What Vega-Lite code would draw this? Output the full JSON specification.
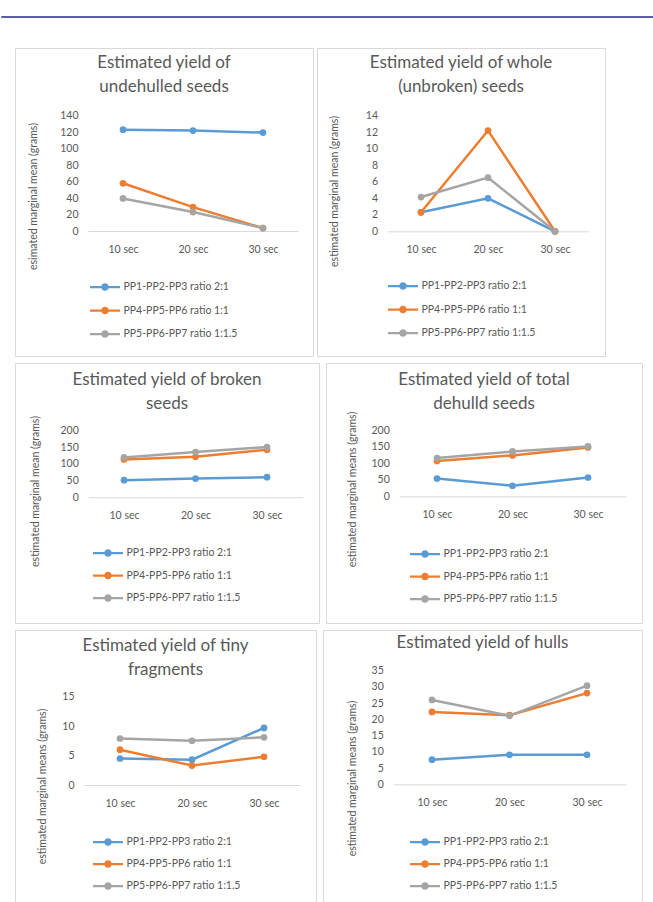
{
  "$schema": "https://vega.github.io/schema/vega-lite/v6.json",
  "padding": {"top": 15, "left": 0, "right": 0, "bottom": 0},
  "background": "white",
  "datasets": {
    "d": [
      {"p": 1, "t": "10 sec", "s": "PP1-PP2-PP3 ratio 2:1", "v": 123},
      {"p": 1, "t": "20 sec", "s": "PP1-PP2-PP3 ratio 2:1", "v": 122},
      {"p": 1, "t": "30 sec", "s": "PP1-PP2-PP3 ratio 2:1", "v": 119.5},
      {"p": 1, "t": "10 sec", "s": "PP4-PP5-PP6 ratio 1:1", "v": 58},
      {"p": 1, "t": "20 sec", "s": "PP4-PP5-PP6 ratio 1:1", "v": 29},
      {"p": 1, "t": "30 sec", "s": "PP4-PP5-PP6 ratio 1:1", "v": 3.5},
      {"p": 1, "t": "10 sec", "s": "PP5-PP6-PP7 ratio 1:1.5", "v": 39.5},
      {"p": 1, "t": "20 sec", "s": "PP5-PP6-PP7 ratio 1:1.5", "v": 23},
      {"p": 1, "t": "30 sec", "s": "PP5-PP6-PP7 ratio 1:1.5", "v": 3.5},
      {"p": 2, "t": "10 sec", "s": "PP1-PP2-PP3 ratio 2:1", "v": 2.3},
      {"p": 2, "t": "20 sec", "s": "PP1-PP2-PP3 ratio 2:1", "v": 4.0},
      {"p": 2, "t": "30 sec", "s": "PP1-PP2-PP3 ratio 2:1", "v": 0},
      {"p": 2, "t": "10 sec", "s": "PP4-PP5-PP6 ratio 1:1", "v": 2.3},
      {"p": 2, "t": "20 sec", "s": "PP4-PP5-PP6 ratio 1:1", "v": 12.2},
      {"p": 2, "t": "30 sec", "s": "PP4-PP5-PP6 ratio 1:1", "v": 0},
      {"p": 2, "t": "10 sec", "s": "PP5-PP6-PP7 ratio 1:1.5", "v": 4.15},
      {"p": 2, "t": "20 sec", "s": "PP5-PP6-PP7 ratio 1:1.5", "v": 6.5},
      {"p": 2, "t": "30 sec", "s": "PP5-PP6-PP7 ratio 1:1.5", "v": 0},
      {"p": 3, "t": "10 sec", "s": "PP1-PP2-PP3 ratio 2:1", "v": 51},
      {"p": 3, "t": "20 sec", "s": "PP1-PP2-PP3 ratio 2:1", "v": 56},
      {"p": 3, "t": "30 sec", "s": "PP1-PP2-PP3 ratio 2:1", "v": 60},
      {"p": 3, "t": "10 sec", "s": "PP4-PP5-PP6 ratio 1:1", "v": 113},
      {"p": 3, "t": "20 sec", "s": "PP4-PP5-PP6 ratio 1:1", "v": 121},
      {"p": 3, "t": "30 sec", "s": "PP4-PP5-PP6 ratio 1:1", "v": 142},
      {"p": 3, "t": "10 sec", "s": "PP5-PP6-PP7 ratio 1:1.5", "v": 119},
      {"p": 3, "t": "20 sec", "s": "PP5-PP6-PP7 ratio 1:1.5", "v": 135},
      {"p": 3, "t": "30 sec", "s": "PP5-PP6-PP7 ratio 1:1.5", "v": 150},
      {"p": 4, "t": "10 sec", "s": "PP1-PP2-PP3 ratio 2:1", "v": 54},
      {"p": 4, "t": "20 sec", "s": "PP1-PP2-PP3 ratio 2:1", "v": 32},
      {"p": 4, "t": "30 sec", "s": "PP1-PP2-PP3 ratio 2:1", "v": 57},
      {"p": 4, "t": "10 sec", "s": "PP4-PP5-PP6 ratio 1:1", "v": 107},
      {"p": 4, "t": "20 sec", "s": "PP4-PP5-PP6 ratio 1:1", "v": 124},
      {"p": 4, "t": "30 sec", "s": "PP4-PP5-PP6 ratio 1:1", "v": 148},
      {"p": 4, "t": "10 sec", "s": "PP5-PP6-PP7 ratio 1:1.5", "v": 116},
      {"p": 4, "t": "20 sec", "s": "PP5-PP6-PP7 ratio 1:1.5", "v": 136},
      {"p": 4, "t": "30 sec", "s": "PP5-PP6-PP7 ratio 1:1.5", "v": 151},
      {"p": 5, "t": "10 sec", "s": "PP1-PP2-PP3 ratio 2:1", "v": 4.5},
      {"p": 5, "t": "20 sec", "s": "PP1-PP2-PP3 ratio 2:1", "v": 4.3},
      {"p": 5, "t": "30 sec", "s": "PP1-PP2-PP3 ratio 2:1", "v": 9.7},
      {"p": 5, "t": "10 sec", "s": "PP4-PP5-PP6 ratio 1:1", "v": 6.0},
      {"p": 5, "t": "20 sec", "s": "PP4-PP5-PP6 ratio 1:1", "v": 3.3},
      {"p": 5, "t": "30 sec", "s": "PP4-PP5-PP6 ratio 1:1", "v": 4.8},
      {"p": 5, "t": "10 sec", "s": "PP5-PP6-PP7 ratio 1:1.5", "v": 7.9},
      {"p": 5, "t": "20 sec", "s": "PP5-PP6-PP7 ratio 1:1.5", "v": 7.5},
      {"p": 5, "t": "30 sec", "s": "PP5-PP6-PP7 ratio 1:1.5", "v": 8.1},
      {"p": 6, "t": "10 sec", "s": "PP1-PP2-PP3 ratio 2:1", "v": 7.6},
      {"p": 6, "t": "20 sec", "s": "PP1-PP2-PP3 ratio 2:1", "v": 9.1},
      {"p": 6, "t": "30 sec", "s": "PP1-PP2-PP3 ratio 2:1", "v": 9.1},
      {"p": 6, "t": "10 sec", "s": "PP4-PP5-PP6 ratio 1:1", "v": 22.3},
      {"p": 6, "t": "20 sec", "s": "PP4-PP5-PP6 ratio 1:1", "v": 21.3},
      {"p": 6, "t": "30 sec", "s": "PP4-PP5-PP6 ratio 1:1", "v": 28.1},
      {"p": 6, "t": "10 sec", "s": "PP5-PP6-PP7 ratio 1:1.5", "v": 26.0},
      {"p": 6, "t": "20 sec", "s": "PP5-PP6-PP7 ratio 1:1.5", "v": 21.1},
      {"p": 6, "t": "30 sec", "s": "PP5-PP6-PP7 ratio 1:1.5", "v": 30.4}
    ]
  },
  "spacing": 29,
  "resolve": {"scale": {"color": "independent", "fill": "independent"}, "legend": {"color": "independent", "fill": "independent"}},
  "vconcat": [
    {
      "width": 653, "height": 1,
      "data": {"values": []},
      "mark": "point",
      "view": {"stroke": "#5b5ea6", "strokeWidth": 1}
    },
    {
      "spacing": 0,
      "resolve": {"scale": {"color": "independent", "fill": "independent"}, "legend": {"color": "independent", "fill": "independent"}},
      "hconcat": [
        {"width": 13, "height": 10, "data": {"values": []}, "mark": "point", "view": {"stroke": null}},
        {
          "spacing": 5,
          "resolve": {"scale": {"color": "independent", "fill": "independent"}, "legend": {"color": "independent", "fill": "independent"}},
          "vconcat": [
            {
              "spacing": 2,
              "resolve": {"scale": {"color": "independent", "fill": "independent"}, "legend": {"color": "independent", "fill": "independent"}},
              "hconcat": [
                {
                  "width": 298, "height": 308,
                  "data": {"name": "d"},
                  "title": {"text": ["Estimated yield of", "undehulled  seeds"], "offset": -48},
                  "transform": [{"filter": "datum.p == 1"}],
                  "encoding": {
                    "x": {"field": "t", "type": "ordinal", "title": null, "scale": {"type": "point", "range": [73, 283], "padding": 0.5}, "axis": {"offset": -125, "labelAngle": 0, "labelPadding": 13}},
                    "y": {"field": "v", "type": "quantitative", "scale": {"domain": [0, 140], "range": [183, 67.7], "nice": false}, "axis": {"values": [0, 20, 40, 60, 80, 100, 120, 140], "offset": -73, "domain": false, "labelPadding": 10, "title": "esimated marginal mean (grams)", "titleX": -55, "titleY": 148}}
                  },
                  "layer": [
                    {"mark": "line", "encoding": {"color": {"field": "s", "type": "nominal", "scale": {"domain": ["PP5-PP6-PP7 ratio 1:1.5", "PP4-PP5-PP6 ratio 1:1", "PP1-PP2-PP3 ratio 2:1"], "range": ["#a5a5a5", "#ed7d31", "#5b9bd5"]}, "legend": null}}},
                    {"mark": {"type": "point", "filled": true, "size": 45, "opacity": 1}, "encoding": {"fill": {"field": "s", "type": "nominal", "scale": {"domain": ["PP1-PP2-PP3 ratio 2:1", "PP4-PP5-PP6 ratio 1:1", "PP5-PP6-PP7 ratio 1:1.5"], "range": ["#5b9bd5", "#ed7d31", "#a5a5a5"]}, "legend": {"title": null, "orient": "none", "legendX": 81.5, "legendY": 230.5, "symbolType": "M-2,-0.15L2,-0.15L2,0.15L-2,0.15Z M0.5,0A0.5,0.5 0 1,1 -0.5,0A0.5,0.5 0 1,1 0.5,0Z", "symbolSize": 225, "labelOffset": 10, "rowPadding": 9.5, "labelFont": "Lato", "labelFontSize": 10.5, "labelColor": "#595959"}}}}
                  ]
                },
                {
                  "width": 288, "height": 308,
                  "data": {"name": "d"},
                  "title": {"text": ["Estimated yield of whole", "(unbroken) seeds"], "offset": -48},
                  "transform": [{"filter": "datum.p == 2"}],
                  "encoding": {
                    "x": {"field": "t", "type": "ordinal", "title": null, "scale": {"type": "point", "range": [70.5, 271.5], "padding": 0.5}, "axis": {"offset": -124.7, "labelAngle": 0, "labelPadding": 13}},
                    "y": {"field": "v", "type": "quantitative", "scale": {"domain": [0, 14], "range": [183.3, 67.7], "nice": false}, "axis": {"values": [0, 2, 4, 6, 8, 10, 12, 14], "offset": -70.5, "domain": false, "labelPadding": 10, "title": "estimated marginal mean (grams)", "titleX": -53, "titleY": 143}}
                  },
                  "layer": [
                    {"mark": "line", "encoding": {"color": {"field": "s", "type": "nominal", "scale": {"domain": ["PP5-PP6-PP7 ratio 1:1.5", "PP4-PP5-PP6 ratio 1:1", "PP1-PP2-PP3 ratio 2:1"], "range": ["#a5a5a5", "#ed7d31", "#5b9bd5"]}, "legend": null}}},
                    {"mark": {"type": "point", "filled": true, "size": 45, "opacity": 1}, "encoding": {"fill": {"field": "s", "type": "nominal", "scale": {"domain": ["PP1-PP2-PP3 ratio 2:1", "PP4-PP5-PP6 ratio 1:1", "PP5-PP6-PP7 ratio 1:1.5"], "range": ["#5b9bd5", "#ed7d31", "#a5a5a5"]}, "legend": {"title": null, "orient": "none", "legendX": 77.5, "legendY": 229.5, "symbolType": "M-2,-0.15L2,-0.15L2,0.15L-2,0.15Z M0.5,0A0.5,0.5 0 1,1 -0.5,0A0.5,0.5 0 1,1 0.5,0Z", "symbolSize": 225, "labelOffset": 10, "rowPadding": 9.5, "labelFont": "Lato", "labelFontSize": 10.5, "labelColor": "#595959"}}}}
                  ]
                }
              ]
            },
            {
              "spacing": 5,
              "resolve": {"scale": {"color": "independent", "fill": "independent"}, "legend": {"color": "independent", "fill": "independent"}},
              "hconcat": [
                {
                  "width": 304, "height": 260,
                  "data": {"name": "d"},
                  "title": {"text": ["Estimated yield of broken", "seeds"], "offset": -50},
                  "transform": [{"filter": "datum.p == 3"}],
                  "encoding": {
                    "x": {"field": "t", "type": "ordinal", "title": null, "scale": {"type": "point", "range": [73.25, 287.75], "padding": 0.5}, "axis": {"offset": -125.7, "labelAngle": 0, "labelPadding": 13}},
                    "y": {"field": "v", "type": "quantitative", "scale": {"domain": [0, 200], "range": [134.3, 67.3], "nice": false}, "axis": {"values": [0, 50, 100, 150, 200], "offset": -73.25, "domain": false, "labelPadding": 10, "title": "estimated marginal mean (grams)", "titleX": -53, "titleY": 128}}
                  },
                  "layer": [
                    {"mark": "line", "encoding": {"color": {"field": "s", "type": "nominal", "scale": {"domain": ["PP5-PP6-PP7 ratio 1:1.5", "PP4-PP5-PP6 ratio 1:1", "PP1-PP2-PP3 ratio 2:1"], "range": ["#a5a5a5", "#ed7d31", "#5b9bd5"]}, "legend": null}}},
                    {"mark": {"type": "point", "filled": true, "size": 45, "opacity": 1}, "encoding": {"fill": {"field": "s", "type": "nominal", "scale": {"domain": ["PP1-PP2-PP3 ratio 2:1", "PP4-PP5-PP6 ratio 1:1", "PP5-PP6-PP7 ratio 1:1.5"], "range": ["#5b9bd5", "#ed7d31", "#a5a5a5"]}, "legend": {"title": null, "orient": "none", "legendX": 84.5, "legendY": 181.5, "symbolType": "M-2,-0.15L2,-0.15L2,0.15L-2,0.15Z M0.5,0A0.5,0.5 0 1,1 -0.5,0A0.5,0.5 0 1,1 0.5,0Z", "symbolSize": 225, "labelOffset": 10, "rowPadding": 8.5, "labelFont": "Lato", "labelFontSize": 10.5, "labelColor": "#595959"}}}}
                  ]
                },
                {
                  "width": 316, "height": 260,
                  "data": {"name": "d"},
                  "title": {"text": ["Estimated yield of total", "dehulld seeds"], "offset": -50},
                  "transform": [{"filter": "datum.p == 4"}],
                  "encoding": {
                    "x": {"field": "t", "type": "ordinal", "title": null, "scale": {"type": "point", "range": [73.25, 299.75], "padding": 0.5}, "axis": {"offset": -126.7, "labelAngle": 0, "labelPadding": 13}},
                    "y": {"field": "v", "type": "quantitative", "scale": {"domain": [0, 200], "range": [133.3, 67.3], "nice": false}, "axis": {"values": [0, 50, 100, 150, 200], "offset": -73.25, "domain": false, "labelPadding": 10, "title": "estimated marginal means (grams)", "titleX": -47, "titleY": 126}}
                  },
                  "layer": [
                    {"mark": "line", "encoding": {"color": {"field": "s", "type": "nominal", "scale": {"domain": ["PP5-PP6-PP7 ratio 1:1.5", "PP4-PP5-PP6 ratio 1:1", "PP1-PP2-PP3 ratio 2:1"], "range": ["#a5a5a5", "#ed7d31", "#5b9bd5"]}, "legend": null}}},
                    {"mark": {"type": "point", "filled": true, "size": 45, "opacity": 1}, "encoding": {"fill": {"field": "s", "type": "nominal", "scale": {"domain": ["PP1-PP2-PP3 ratio 2:1", "PP4-PP5-PP6 ratio 1:1", "PP5-PP6-PP7 ratio 1:1.5"], "range": ["#5b9bd5", "#ed7d31", "#a5a5a5"]}, "legend": {"title": null, "orient": "none", "legendX": 90.5, "legendY": 182.5, "symbolType": "M-2,-0.15L2,-0.15L2,0.15L-2,0.15Z M0.5,0A0.5,0.5 0 1,1 -0.5,0A0.5,0.5 0 1,1 0.5,0Z", "symbolSize": 225, "labelOffset": 10, "rowPadding": 8.5, "labelFont": "Lato", "labelFontSize": 10.5, "labelColor": "#595959"}}}}
                  ]
                }
              ]
            },
            {
              "spacing": 5,
              "resolve": {"scale": {"color": "independent", "fill": "independent"}, "legend": {"color": "independent", "fill": "independent"}},
              "hconcat": [
                {
                  "width": 301, "height": 280,
                  "data": {"name": "d"},
                  "title": {"text": ["Estimated yield of tiny", "fragments"], "offset": -49},
                  "transform": [{"filter": "datum.p == 5"}],
                  "encoding": {
                    "x": {"field": "t", "type": "ordinal", "title": null, "scale": {"type": "point", "range": [69, 285], "padding": 0.5}, "axis": {"offset": -125, "labelAngle": 0, "labelPadding": 13}},
                    "y": {"field": "v", "type": "quantitative", "scale": {"domain": [0, 15], "range": [155, 66.7], "nice": false}, "axis": {"values": [0, 5, 10, 15], "offset": -69, "domain": false, "labelPadding": 10, "title": "estimated marginal means (grams)", "titleX": -42, "titleY": 156}}
                  },
                  "layer": [
                    {"mark": "line", "encoding": {"color": {"field": "s", "type": "nominal", "scale": {"domain": ["PP5-PP6-PP7 ratio 1:1.5", "PP4-PP5-PP6 ratio 1:1", "PP1-PP2-PP3 ratio 2:1"], "range": ["#a5a5a5", "#ed7d31", "#5b9bd5"]}, "legend": null}}},
                    {"mark": {"type": "point", "filled": true, "size": 45, "opacity": 1}, "encoding": {"fill": {"field": "s", "type": "nominal", "scale": {"domain": ["PP1-PP2-PP3 ratio 2:1", "PP4-PP5-PP6 ratio 1:1", "PP5-PP6-PP7 ratio 1:1.5"], "range": ["#5b9bd5", "#ed7d31", "#a5a5a5"]}, "legend": {"title": null, "orient": "none", "legendX": 84.5, "legendY": 203.5, "symbolType": "M-2,-0.15L2,-0.15L2,0.15L-2,0.15Z M0.5,0A0.5,0.5 0 1,1 -0.5,0A0.5,0.5 0 1,1 0.5,0Z", "symbolSize": 225, "labelOffset": 10, "rowPadding": 8, "labelFont": "Lato", "labelFontSize": 10.5, "labelColor": "#595959"}}}}
                  ]
                },
                {
                  "width": 319, "height": 280,
                  "data": {"name": "d"},
                  "title": {"text": "Estimated yield of hulls", "offset": -22},
                  "transform": [{"filter": "datum.p == 6"}],
                  "encoding": {
                    "x": {"field": "t", "type": "ordinal", "title": null, "scale": {"type": "point", "range": [70.25, 302.75], "padding": 0.5}, "axis": {"offset": -125.7, "labelAngle": 0, "labelPadding": 13}},
                    "y": {"field": "v", "type": "quantitative", "scale": {"domain": [0, 35], "range": [154.3, 40.7], "nice": false}, "axis": {"values": [0, 5, 10, 15, 20, 25, 30, 35], "offset": -70.25, "domain": false, "labelPadding": 10, "title": "estimated marginal means (grams)", "titleX": -41, "titleY": 148}}
                  },
                  "layer": [
                    {"mark": "line", "encoding": {"color": {"field": "s", "type": "nominal", "scale": {"domain": ["PP5-PP6-PP7 ratio 1:1.5", "PP4-PP5-PP6 ratio 1:1", "PP1-PP2-PP3 ratio 2:1"], "range": ["#a5a5a5", "#ed7d31", "#5b9bd5"]}, "legend": null}}},
                    {"mark": {"type": "point", "filled": true, "size": 45, "opacity": 1}, "encoding": {"fill": {"field": "s", "type": "nominal", "scale": {"domain": ["PP1-PP2-PP3 ratio 2:1", "PP4-PP5-PP6 ratio 1:1", "PP5-PP6-PP7 ratio 1:1.5"], "range": ["#5b9bd5", "#ed7d31", "#a5a5a5"]}, "legend": {"title": null, "orient": "none", "legendX": 93.5, "legendY": 203.5, "symbolType": "M-2,-0.15L2,-0.15L2,0.15L-2,0.15Z M0.5,0A0.5,0.5 0 1,1 -0.5,0A0.5,0.5 0 1,1 0.5,0Z", "symbolSize": 225, "labelOffset": 10, "rowPadding": 8, "labelFont": "Lato", "labelFontSize": 10.5, "labelColor": "#595959"}}}}
                  ]
                }
              ]
            }
          ]
        }
      ]
    }
  ],
  "config": {
    "font": "Lato",
    "view": {"stroke": "#d9d9d9", "strokeWidth": 1},
    "line": {"strokeWidth": 2.5},
    "title": {"font": "Lato", "fontSize": 17, "fontWeight": "normal", "color": "#595959", "lineHeight": 24, "anchor": "middle"},
    "axis": {"labelFont": "Lato", "labelFontSize": 10.5, "labelColor": "#595959", "titleFont": "Lato", "titleFontSize": 10.5, "titleFontWeight": "normal", "titleColor": "#595959", "titleAlign": "center", "titleBaseline": "middle", "domainColor": "#d9d9d9", "domainWidth": 1, "ticks": false, "grid": false}
  }
}
